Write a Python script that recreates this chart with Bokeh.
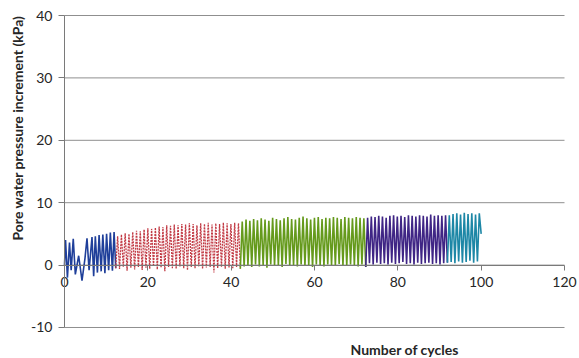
import numpy as np
from bokeh.plotting import figure
from bokeh.models import FixedTicker, Title, Range1d
from bokeh.embed import file_html
from bokeh.resources import INLINE

# ---------------- data ----------------
x_ticks = [0, 20, 40, 60, 80, 100, 120]
x_tick_labels = ["0", "20", "40", "60", "80", "100", "120"]
y_ticks = [-10, 0, 10, 20, 30, 40]
y_tick_labels = ["-10", "0", "10", "20", "30", "40"]

# stage 1 (blue) - irregular, explicit cycle positions
blue_x = [0, 0.25, 0.7, 1.2, 1.6, 2.1, 2.6, 3.4, 4.2, 4.9, 5.4, 5.9, 6.6, 7.0,
          7.4, 7.9, 8.3, 8.8, 9.2, 9.7, 10.1, 10.6, 11.0, 11.5, 11.9, 12.3]
blue_y = [0, 4.0, -2.0, 3.6, -0.8, 4.2, -1.5, 1.5, -2.5, 1.0, 4.3, -0.8, 4.5, -1.8,
          4.6, -1.2, 4.8, -1.0, 4.9, -1.3, 5.0, -0.8, 5.2, -0.9, 5.3, -0.5]

# later stages: evenly sampled peaks/troughs between start and end cycle
red_span = (12.3, 42.2)
red_y = [-0.5,
         4.6, -0.6, 4.9, -0.3, 5.1, -0.9, 5.0, -0.4, 5.3, -0.7, 5.5, -0.3, 5.4, -0.8, 5.7, -0.4, 5.9, -0.6, 5.8, -0.2,
         6.0, -0.7, 6.2, -0.4, 6.1, -1.0, 6.4, -0.3, 6.3, -0.5, 6.5, -0.6, 6.4, -0.2, 6.6, -0.5, 6.5, -0.8, 6.7, -0.3,
         6.6, -0.5, 6.4, -0.2, 6.7, -0.6, 6.6, -0.4, 6.8, -0.3, 6.5, -1.2, 6.7, -0.5, 6.6, -0.3, 6.8, -0.6, 6.7, -0.4,
         6.6, -0.5, 6.8, -0.3, 6.7, -0.6]

green_span = (42.2, 72.3)
green_y = [-0.6,
           7.0, -0.2, 7.3, 0.0, 7.1, -0.3, 7.4, 0.1, 7.2, -0.2, 7.5, 0.0, 7.3, -0.4, 7.1, 0.1, 7.6, -0.1, 7.4, 0.0,
           7.2, -0.3, 7.5, 0.2, 7.7, -0.1, 7.4, 0.0, 7.3, -0.2, 7.6, 0.1, 7.8, -0.1, 7.5, 0.0, 7.3, -0.3, 7.6, 0.1,
           7.7, 0.0, 7.4, -0.2, 7.6, 0.1, 7.5, 0.0, 7.7, -0.1, 7.6, 0.2, 7.4, 0.0, 7.7, -0.1, 7.6, 0.1, 7.5, 0.0,
           7.7, -0.2, 7.6, 0.1, 7.5, -0.3]

purple_span = (72.3, 91.9)
purple_y = [-0.3,
            7.6, 0.3, 7.8, 0.1, 7.7, 0.4, 7.9, 0.2, 7.8, 0.3, 7.6, 0.1, 7.9, 0.4, 8.0, 0.2, 7.8, 0.3, 7.9, 0.5,
            7.7, 0.2, 8.0, 0.3, 7.9, 0.1, 7.8, 0.4, 8.0, 0.2, 7.9, 0.3, 7.8, 0.4, 8.1, 0.2, 7.9, 0.3, 8.0, 0.1,
            7.9, 0.3, 8.0, 0.4]

teal_span = (91.9, 100.0)
teal_y = [0.4,
          8.0, 0.5, 8.2, 0.3, 8.3, 0.6, 8.1, 0.4, 8.4, 0.5, 8.2, 0.7, 8.3, 0.4, 8.1, 0.6, 8.3, 5.0]

FONT = "Lato"
TXT = "#262626"
GRID = "#8f8f8f"
AXIS = "#7a7a7a"

# frame spans a little beyond the axes so that edge tick labels are not clipped
p = figure(width=579, height=358, output_backend="svg", toolbar_location=None,
           x_range=Range1d(-8.64, 123.6), y_range=Range1d(-11.603, 41.603),
           min_border_left=28, min_border_right=0, min_border_top=5, min_border_bottom=21)
p.outline_line_color = None
p.background_fill_color = "white"
p.border_fill_color = "white"
p.xgrid.visible = False
p.ygrid.visible = False

# horizontal gridlines limited to the x extent of the axis
n = len(y_ticks)
p.segment(x0=[x_ticks[0]] * n, y0=y_ticks, x1=[x_ticks[-1]] * n, y1=y_ticks,
          line_color=GRID, line_width=1, level="underlay")

# y axis at x = 0
p.yaxis.fixed_location = 0
p.yaxis.bounds = (y_ticks[0], y_ticks[-1])
p.yaxis.ticker = FixedTicker(ticks=y_ticks)
p.yaxis.major_label_overrides = dict(zip(y_ticks, y_tick_labels))
p.yaxis.major_label_text_font = FONT
p.yaxis.major_label_text_font_size = "14px"
p.yaxis.major_label_text_color = TXT
p.yaxis.major_label_standoff = 6
p.yaxis.major_tick_out = 6
p.yaxis.major_tick_in = 0
p.yaxis.minor_tick_line_color = None
p.yaxis.axis_line_color = AXIS
p.yaxis.major_tick_line_color = AXIS

# x axis crossing at y = 0
p.xaxis.fixed_location = 0
p.xaxis.bounds = (x_ticks[0], x_ticks[-1])
p.xaxis.ticker = FixedTicker(ticks=x_ticks)
p.xaxis.major_label_overrides = dict(zip(x_ticks, x_tick_labels))
p.xaxis.major_label_text_font = FONT
p.xaxis.major_label_text_font_size = "14px"
p.xaxis.major_label_text_color = TXT
p.xaxis.major_label_standoff = 7
p.xaxis.major_tick_out = 5
p.xaxis.major_tick_in = 0
p.xaxis.minor_tick_line_color = None
p.xaxis.axis_line_color = AXIS
p.xaxis.major_tick_line_color = AXIS

# axis titles
p.add_layout(Title(text="Number of cycles", align="left", offset=322, standoff=2,
                   text_font=FONT, text_font_size="14px", text_font_style="bold",
                   text_color=TXT), "below")
p.add_layout(Title(text="Pore water pressure increment (kPa)", align="right", offset=10,
                   standoff=6, text_font=FONT, text_font_size="14px", text_font_style="bold",
                   text_color=TXT), "left")

# data lines
p.line(blue_x, blue_y, line_color="#1f3f9a", line_width=1.6)
for span, ys, col, dash, lw in [
    (red_span, red_y, "#c23b45", "2 1", 1.3),
    (green_span, green_y, "#659a1c", "solid", 1.6),
    (purple_span, purple_y, "#3f2585", "solid", 1.6),
    (teal_span, teal_y, "#1d87a6", "solid", 1.6),
]:
    xs = np.linspace(span[0], span[1], len(ys))
    p.line(xs, ys, line_color=col, line_width=lw, line_dash=dash)

open("out.html", "w").write(file_html(p, INLINE))
